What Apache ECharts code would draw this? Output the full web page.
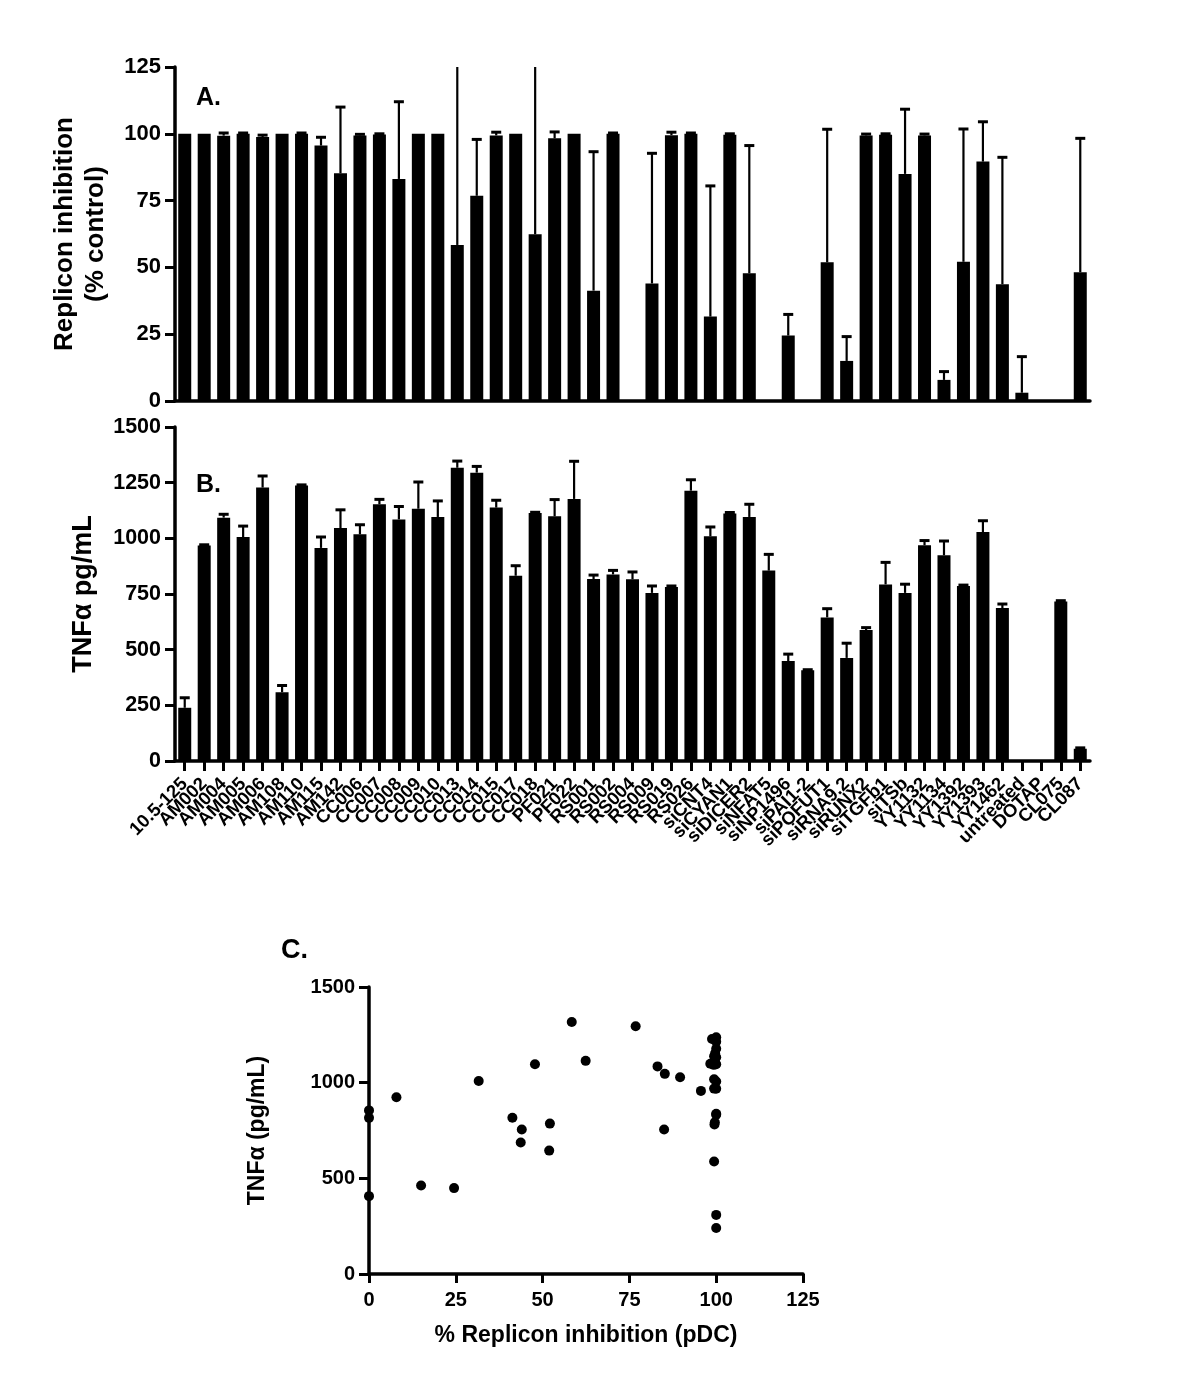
<!DOCTYPE html>
<html>
<head>
<meta charset="utf-8">
<title>Replicon inhibition / TNFa</title>
<script src="https://cdn.jsdelivr.net/npm/echarts@6/dist/echarts.min.js"></script>
<style>
    html, body { margin: 0; padding: 0; background: #fff; }
    #chart { width: 1200px; height: 1392px; }
</style>
</head>
<body>
<div id="chart"></div>
<script>
    var categories = ['10.5-125', 'AM002', 'AM004', 'AM005', 'AM006', 'AM108', 'AM110', 'AM115', 'AM142',
        'CC006', 'CC007', 'CC008', 'CC009', 'CC010', 'CC013', 'CC014', 'CC015', 'CC017', 'CC018',
        'PF021', 'PF022', 'RS001', 'RS002', 'RS004', 'RS009', 'RS019', 'RS026',
        'siCNT4', 'siCYAN1', 'siDICER2', 'siNFAT5', 'siNP1496', 'siPAI1-2', 'siPOFUT1', 'siRNA9.2',
        'siRUNX2', 'siTGFb1', 'siTSb', 'YY1132', 'YY1134', 'YY1392', 'YY1393', 'YY1462',
        'untreated', 'DOTAP', 'CL075', 'CL087'];

    // panel A, % control
    var inhibition = [100, 100, 99.3, 100, 98.8, 100, 100, 95.6, 85.2,
        99.4, 99.7, 83.1, 100, 100, 58.4, 76.8, 99.4, 100, 62.4,
        98.3, 100, 41.3, 100, 0, 44.0, 99.5, 100,
        31.6, 99.6, 47.8, 0, 24.5, 0, 51.9, 15.0,
        99.4, 99.6, 85.0, 99.4, 7.9, 52.1, 89.6, 43.7,
        3.1, 0, 0, 48.2];
    var inhibitionErr = [0, 0, 1, 0.3, 0.7, 0, 0.3, 3.1, 24.8,
        0.4, 0.3, 28.9, 0, 0, 75, 21.1, 1.2, 0, 75,
        2.4, 0, 52, 0.3, 0, 48.7, 1.1, 0.3,
        48.9, 0.4, 47.8, 0, 7.9, 0, 49.8, 9.1,
        0.5, 0.4, 24.2, 0.5, 3.1, 49.7, 14.9, 47.5,
        13.5, 0, 0, 50.1];

    // panel B, pg/mL
    var tnf = [239, 968, 1093, 1006, 1228, 309, 1237, 957, 1046,
        1018, 1153, 1085, 1133, 1096, 1317, 1295, 1138, 832, 1114,
        1099, 1177, 817, 838, 816, 755, 781, 1214,
        1009, 1111, 1096, 855, 449, 407, 645, 463,
        588, 793, 755, 969, 924, 786, 1028, 687,
        0, 0, 716, 55];
    var tnfErr = [45, 3, 15, 49, 52, 30, 3, 49, 82,
        43, 22, 58, 120, 72, 30, 28, 33, 45, 3,
        75, 169, 18, 18, 33, 31, 5, 49,
        42, 5, 57, 73, 31, 3, 39, 66,
        11, 99, 39, 21, 64, 4, 51, 18,
        0, 0, 4, 4];

    // panel C, [% inhibition, TNFa]
    var scatterPts = [
        [0, 855], [0, 816], [0, 407], [7.9, 924], [15.0, 463], [24.5, 449], [31.6, 1009],
        [41.3, 817], [44.0, 755], [43.7, 687], [47.8, 1096], [52.1, 786], [51.9, 645],
        [58.4, 1317], [62.4, 1114], [76.8, 1295], [83.1, 1085], [85.2, 1046], [85.0, 755],
        [89.6, 1028], [95.6, 957], [98.8, 1228], [100, 1237], [98.3, 1099], [100, 1214],
        [100, 1177], [99.7, 1153], [99.4, 1138], [100, 1133], [99.6, 1111], [99.3, 1093],
        [100, 1096], [99.4, 1018], [100, 1006], [99.4, 969], [100, 968], [100, 838],
        [100, 832], [99.6, 793], [99.5, 781], [99.4, 588], [100, 309], [100, 240]
    ];

    var FONT = '"Liberation Sans", Arial, sans-serif';

    function withErr(vals, errs) {
        var res = [];
        for (var i = 0; i < vals.length; i++) {
            res.push([i, vals[i], errs[i]]);
        }
        return res;
    }

    // upward error bar, clipped at the axis max like Prism does
    function errorBar(yMax) {
        return function (params, api) {
            var v = api.value(1);
            var e = api.value(2);
            if (!e) {
                return;
            }
            var top = Math.min(v + e, yMax);
            var p0 = api.coord([api.value(0), v]);
            var p1 = api.coord([api.value(0), top]);
            var kids = [{
                type: 'line',
                shape: {x1: p0[0], y1: p0[1], x2: p1[0], y2: p1[1]},
                style: {stroke: '#000', lineWidth: 2.2}
            }];
            if (v + e <= yMax) {
                kids.push({
                    type: 'line',
                    shape: {x1: p1[0] - 5, y1: p1[1], x2: p1[0] + 5, y2: p1[1]},
                    style: {stroke: '#000', lineWidth: 3}
                });
            }
            return {type: 'group', children: kids};
        };
    }

    var plain = function (v) { return String(v); };
    var axisLine = {show: true, lineStyle: {color: '#000', width: 3.5}};
    var yTick = {show: true, length: 10, lineStyle: {color: '#000', width: 3}};
    var boldLabel = function (size, margin) {
        return {color: '#000', fontFamily: FONT, fontWeight: 'bold', fontSize: size, margin: margin, formatter: plain};
    };
    var nameStyle = function (size) {
        return {color: '#000', fontFamily: FONT, fontWeight: 'bold', fontSize: size, lineHeight: size + 5};
    };

    var option = {
        backgroundColor: '#fff',
        animation: false,
        title: [
            {text: 'A.', left: 191, top: 81, textStyle: {fontFamily: FONT, fontWeight: 'bold', fontSize: 25, color: '#000'}},
            {text: 'B.', left: 191, top: 468, textStyle: {fontFamily: FONT, fontWeight: 'bold', fontSize: 25, color: '#000'}},
            {text: 'C.', left: 276, top: 932, textStyle: {fontFamily: FONT, fontWeight: 'bold', fontSize: 27, color: '#000'}}
        ],
        grid: [
            {left: 175, top: 67, width: 915, height: 334},
            {left: 175, top: 427, width: 915, height: 334},
            {left: 369, top: 987, width: 434, height: 287}
        ],
        xAxis: [{
            gridIndex: 0,
            type: 'category',
            data: categories,
            axisLine: axisLine,
            axisTick: {show: false},
            axisLabel: {show: false}
        }, {
            gridIndex: 1,
            type: 'category',
            data: categories,
            axisLine: axisLine,
            axisTick: {show: true, alignWithLabel: true, length: 10, lineStyle: {color: '#000', width: 3}},
            axisLabel: {
                show: true, interval: 0, rotate: 45, color: '#000',
                fontFamily: FONT, fontWeight: 'bold', fontSize: 18.5, margin: 20
            }
        }, {
            gridIndex: 2,
            type: 'value',
            min: 0,
            max: 125,
            interval: 25,
            name: '% Replicon inhibition (pDC)',
            nameLocation: 'middle',
            nameGap: 48,
            nameTextStyle: nameStyle(23),
            axisLine: axisLine,
            axisTick: {show: true, length: 9, lineStyle: {color: '#000', width: 3}},
            axisLabel: boldLabel(20, 16),
            splitLine: {show: false}
        }],
        yAxis: [{
            gridIndex: 0,
            type: 'value',
            min: 0,
            max: 125,
            interval: 25,
            name: 'Replicon inhibition\n(% control)',
            nameLocation: 'middle',
            nameGap: 64,
            nameTextStyle: nameStyle(26),
            axisLine: axisLine,
            axisTick: yTick,
            axisLabel: boldLabel(22, 14),
            splitLine: {show: false}
        }, {
            gridIndex: 1,
            type: 'value',
            min: 0,
            max: 1500,
            interval: 250,
            name: 'TNFα pg/mL',
            nameLocation: 'middle',
            nameGap: 75,
            nameTextStyle: nameStyle(27),
            axisLine: axisLine,
            axisTick: yTick,
            axisLabel: boldLabel(21.5, 14),
            splitLine: {show: false}
        }, {
            gridIndex: 2,
            type: 'value',
            min: 0,
            max: 1500,
            interval: 500,
            name: 'TNFα (pg/mL)',
            nameLocation: 'middle',
            nameGap: 97,
            nameTextStyle: nameStyle(23),
            axisLine: axisLine,
            axisTick: yTick,
            axisLabel: boldLabel(20, 14),
            splitLine: {show: false}
        }],
        series: [{
            type: 'bar',
            xAxisIndex: 0,
            yAxisIndex: 0,
            data: inhibition,
            barWidth: 13,
            itemStyle: {color: '#000'}
        }, {
            type: 'custom',
            xAxisIndex: 0,
            yAxisIndex: 0,
            data: withErr(inhibition, inhibitionErr),
            renderItem: errorBar(125),
            z: 5
        }, {
            type: 'bar',
            xAxisIndex: 1,
            yAxisIndex: 1,
            data: tnf,
            barWidth: 13,
            itemStyle: {color: '#000'}
        }, {
            type: 'custom',
            xAxisIndex: 1,
            yAxisIndex: 1,
            data: withErr(tnf, tnfErr),
            renderItem: errorBar(1500),
            z: 5
        }, {
            type: 'scatter',
            xAxisIndex: 2,
            yAxisIndex: 2,
            data: scatterPts,
            symbol: 'circle',
            symbolSize: 10,
            itemStyle: {color: '#000', opacity: 1}
        }]
    };

    var myChart = echarts.init(document.getElementById('chart'), null, {renderer: 'canvas'});
    myChart.setOption(option);
</script>
</body>
</html>
